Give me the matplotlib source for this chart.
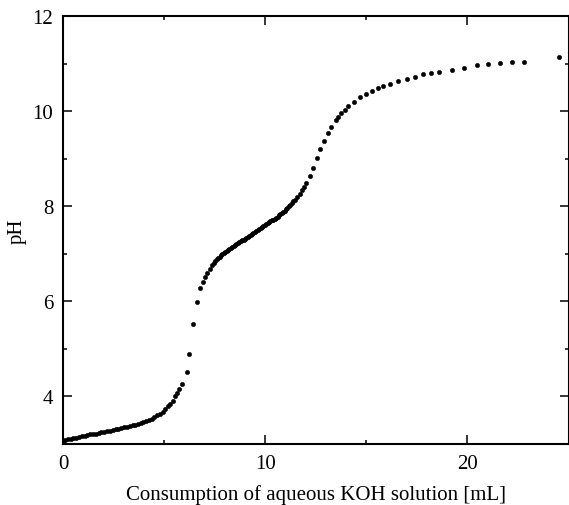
import matplotlib
matplotlib.use("Agg")
import matplotlib.pyplot as plt
from matplotlib.ticker import MultipleLocator

# Titration data: volume of KOH added [mL] and measured pH
volume_ml = [
    0.00, 0.12, 0.25, 0.38, 0.51, 0.65, 0.79, 0.93, 1.07, 1.21,
    1.35, 1.48, 1.62, 1.76, 1.90, 2.04, 2.18, 2.32, 2.46, 2.60,
    2.74, 2.88, 3.02, 3.16, 3.30, 3.44, 3.57, 3.71, 3.85, 3.98,
    4.12, 4.25, 4.39, 4.52, 4.66, 4.80, 4.93, 5.06, 5.19, 5.31,
    5.43, 5.55, 5.66, 5.76, 5.90, 6.12, 6.24, 6.42, 6.61, 6.80,
    6.90, 7.01, 7.14, 7.26, 7.38,
    7.46, 7.53, 7.60, 7.67, 7.74, 7.81, 7.88, 7.95, 8.02, 8.09,
    8.16, 8.23, 8.30, 8.37, 8.44, 8.51, 8.58, 8.65, 8.72, 8.79,
    8.86, 8.93, 9.00, 9.07, 9.14, 9.21, 9.28, 9.35, 9.42, 9.49,
    9.56, 9.63, 9.70, 9.77, 9.84, 9.91, 9.98, 10.05, 10.12, 10.19,
    10.26, 10.33, 10.40, 10.47, 10.54, 10.61, 10.68, 10.75, 10.82, 10.89,
    10.96, 11.03, 11.10, 11.17, 11.24, 11.31, 11.38, 11.45,
    11.57, 11.70, 11.83, 11.93, 12.03, 12.20, 12.38, 12.55, 12.73, 12.91,
    13.09, 13.27, 13.48, 13.61, 13.76, 13.94, 14.11, 14.41, 14.70, 15.00,
    15.29, 15.57, 15.85, 16.15, 16.56, 17.00, 17.42, 17.81, 18.22, 18.62,
    19.23, 19.84, 20.46, 21.04, 21.61, 22.22, 22.82, 24.54,
]
ph_value = [
    3.07, 3.08, 3.10, 3.11, 3.12, 3.13, 3.15, 3.16, 3.17, 3.19,
    3.20, 3.21, 3.22, 3.24, 3.25, 3.26, 3.27, 3.28, 3.30, 3.31,
    3.32, 3.33, 3.35, 3.36, 3.38, 3.39, 3.41, 3.42, 3.44, 3.46,
    3.48, 3.50, 3.53, 3.56, 3.60, 3.64, 3.68, 3.73, 3.79, 3.85,
    3.91, 4.00, 4.08, 4.15, 4.27, 4.51, 4.90, 5.53, 5.99, 6.28,
    6.41, 6.52, 6.60, 6.69, 6.76,
    6.81, 6.85, 6.88, 6.91, 6.94, 6.97, 6.99, 7.01, 7.04, 7.06,
    7.08, 7.10, 7.12, 7.14, 7.16, 7.18, 7.20, 7.22, 7.24, 7.26,
    7.28, 7.30, 7.32, 7.34, 7.36, 7.38, 7.40, 7.42, 7.44, 7.46,
    7.48, 7.50, 7.52, 7.54, 7.56, 7.58, 7.60, 7.62, 7.64, 7.66,
    7.68, 7.70, 7.72, 7.74, 7.76, 7.78, 7.81, 7.83, 7.86, 7.88,
    7.91, 7.94, 7.97, 8.00, 8.03, 8.07, 8.11, 8.14,
    8.19, 8.25, 8.34, 8.41, 8.49, 8.64, 8.81, 9.01, 9.21, 9.38,
    9.53, 9.66, 9.81, 9.88, 9.95, 10.03, 10.10, 10.20, 10.29, 10.36,
    10.42, 10.48, 10.53, 10.57, 10.63, 10.67, 10.72, 10.77, 10.80, 10.83,
    10.87, 10.91, 10.96, 10.99, 11.02, 11.03, 11.04, 11.13,
]

x_label = "Consumption of aqueous KOH solution [mL]"
y_label = "pH"
x_limits = (0, 25)
y_limits = (3, 12)

plt.rcParams['font.family'] = ['Liberation Serif', 'DejaVu Serif']
plt.rcParams['mathtext.fontset'] = 'stix'

W, H = 569, 506
fig = plt.figure(figsize=(W / 100, H / 100), dpi=100)
ax = fig.add_axes([63 / W, 1 - 445 / H, (568.5 - 63) / W, (445 - 17) / H])

ax.plot(volume_ml, ph_value, linestyle='none', marker='o', markersize=3.2,
        markerfacecolor='black', markeredgecolor='black', markeredgewidth=0.3,
        clip_on=True)

ax.set_xlim(*x_limits)
ax.set_ylim(*y_limits)
ax.xaxis.set_major_locator(MultipleLocator(10))
ax.xaxis.set_minor_locator(MultipleLocator(5))
ax.yaxis.set_major_locator(MultipleLocator(2))
ax.yaxis.set_minor_locator(MultipleLocator(1))
ax.set_yticks([4, 6, 8, 10, 12])

ax.tick_params(which='both', direction='in', top=True, right=True,
               width=1.1, colors='black', labelsize=15)
ax.tick_params(which='major', length=6.3, pad=7)
ax.tick_params(which='minor', length=3.2)
for sp in ax.spines.values():
    sp.set_linewidth(1.5)

ax.set_xlabel(x_label, fontsize=15, labelpad=8)
ax.set_ylabel(y_label, fontsize=15, labelpad=4)

fig.savefig("out.png", dpi=100)
